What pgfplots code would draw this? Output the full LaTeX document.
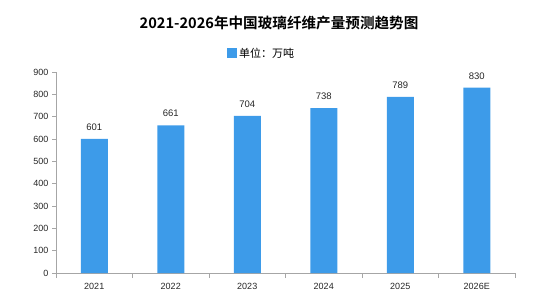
\documentclass[border=0pt]{standalone}
\usepackage{fontspec}
\setmainfont{Liberation Sans}
\newfontfamily\cjk{Noto Sans CJK SC}
\newfontfamily\cjkb{Noto Sans CJK SC Bold}
\usepackage{pgfplots}
\pgfplotsset{compat=1.18}
\definecolor{barblue}{HTML}{3D9BE9}
\definecolor{axgray}{HTML}{A6A6A6}
\begin{document}
\begin{tikzpicture}
\path (0,0) rectangle (552pt,301pt);
\begin{axis}[
  at={(56pt,28pt)}, anchor=south west,
  scale only axis, width=459pt, height=201pt,
  xmin=-0.5, xmax=5.5, ymin=0, ymax=900,
  axis x line=bottom, axis y line=left,
  axis line style={axgray, line width=0.8pt, -},
  xtick={0,1,2,3,4,5},
  xticklabels={2021,2022,2023,2024,2025,2026E},
  major x tick style={draw=none},
  minor xtick={-0.5,0.5,1.5,2.5,3.5,4.5,5.5},
  minor tick length=5pt,
  minor x tick style={axgray, line width=0.8pt},
  ytick={0,100,...,900},
  major tick length=4pt,
  tick align=outside,
  y tick style={axgray, line width=0.8pt},
  tick label style={font=\fontsize{9}{10}\selectfont, text=black!85},
  /pgf/number format/assume math mode=true,
  xticklabel style={yshift=-3pt},
  ymajorgrids=false,
  ybar, bar width=27pt,
  nodes near coords,
  nodes near coords style={font=\fontsize{9.5}{10}\selectfont, text=black!85, yshift=5pt},
  legend style={at={(0.448,1)}, anchor=south, yshift=11pt, draw=none, fill=none,
    font=\cjk\fontsize{11}{13}\selectfont, inner sep=0pt},
  legend image code/.code={\fill[barblue] (0pt,-4.5pt) rectangle (10pt,5.5pt);},
  title={\cjkb\fontsize{14.6}{16}\selectfont 2021-2026年中国玻璃纤维产量预测趋势图},
  title style={at={(0.486,1)}, anchor=south, yshift=32pt},
  clip=false,
]
\addplot[fill=barblue, draw=none] coordinates {(0,601) (1,661) (2,704) (3,738) (4,789) (5,830)};
\addlegendentry{单位：万吨}
\end{axis}
\end{tikzpicture}
\end{document}
